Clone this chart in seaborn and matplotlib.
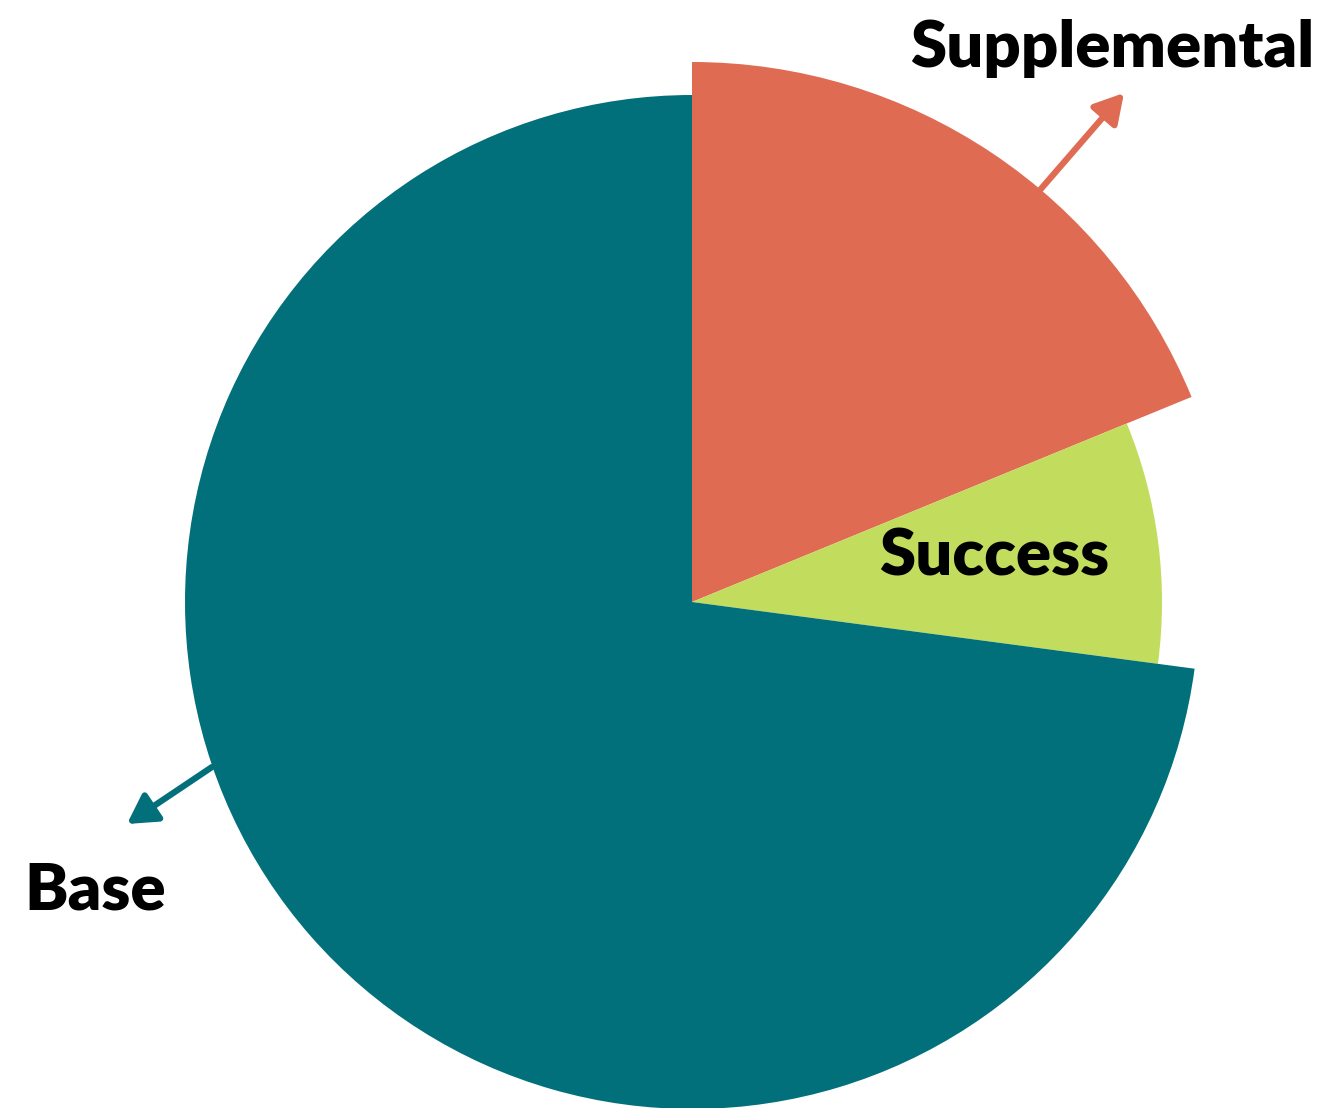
import matplotlib
matplotlib.use("Agg")
import matplotlib.pyplot as plt
import seaborn as sns

sns.set_theme(style="white")
plt.rcParams['font.family'] = ['Lato', 'DejaVu Sans']

categories = ["Supplemental", "Success", "Base"]
shares = [18.8, 8.3, 72.9]
colors = ["#E06B53", "#C2DC5E", "#01707A"]
radii = [540, 470, 507]

W, H = 1338, 1108
fig = plt.figure(figsize=(W / 100, H / 100), dpi=100)
ax = fig.add_axes([0, 0, 1, 1])

center = (692, H - 602)
for i, (cat, r) in enumerate(zip(categories, radii)):
    cols = [colors[j] if j == i else "none" for j in range(len(categories))]
    ax.pie(shares, colors=cols, radius=r, center=center, startangle=90,
           counterclock=False, frame=True,
           wedgeprops=dict(linewidth=0, edgecolor="none"))
ax.set_xlim(0, W)
ax.set_ylim(0, H)
ax.set_aspect("equal")
ax.axis("off")

txt = dict(fontsize=47, fontweight="heavy", color="black", ha="center", va="baseline")
ax.text(1112, H - 67, "Supplemental", **txt)
ax.text(994, H - 576, "Success", **txt)
ax.text(95, H - 909, "Base", **txt)

ax.annotate("", xy=(1124, H - 93), xytext=(1040, H - 190),
            arrowprops=dict(arrowstyle="-|>,head_length=0.7,head_width=0.4",
                            color=colors[0], lw=4.5,
                            mutation_scale=25, shrinkA=0, shrinkB=0))
ax.annotate("", xy=(127, H - 824), xytext=(212, H - 767),
            arrowprops=dict(arrowstyle="-|>,head_length=0.7,head_width=0.4",
                            color=colors[2], lw=4.5,
                            mutation_scale=25, shrinkA=0, shrinkB=0))

fig.savefig("out.png", dpi=100, facecolor="white")
